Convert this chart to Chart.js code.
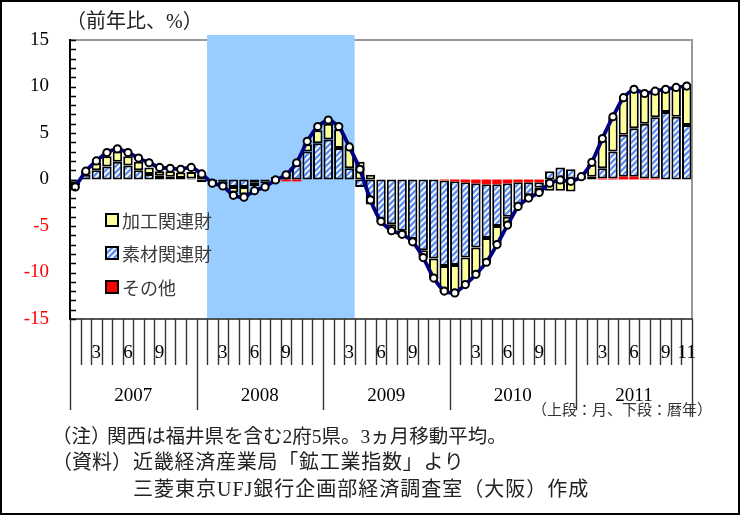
<!DOCTYPE html>
<html><head><meta charset="utf-8">
<script src="https://cdn.jsdelivr.net/npm/chart.js@4/dist/chart.umd.min.js"></script>
<style>
html,body{margin:0;padding:0;background:#fff;}
#wrap{position:relative;width:740px;height:515px;overflow:hidden;background:#fff;}
#c{position:absolute;left:0;top:0;}
#frame{position:absolute;left:0;top:0;width:740px;height:515px;box-sizing:border-box;border:2px solid #000;pointer-events:none;}
.t{position:absolute;white-space:nowrap;font-family:"Liberation Serif","Noto Sans CJK JP",serif;color:#222;line-height:26px;}
</style></head>
<body>
<div id="wrap">
<canvas id="c" width="740" height="515"></canvas>
<div class="t" style="left:66px;top:8px;font-size:20px;">（前年比、%）</div>
<div class="t" style="left:532px;top:398px;font-size:15px;line-height:24px;color:#333;">（上段：月、下段：暦年）</div>
<div class="t" style="left:52px;top:424px;font-size:19.5px;">（注）</div>
<div class="t" style="left:107px;top:424px;font-size:19.5px;">関西は福井県を含む2府5県。3ヵ月移動平均。</div>
<div class="t" style="left:52px;top:449px;font-size:20px;">（資料）</div>
<div class="t" style="left:133px;top:449px;font-size:20px;letter-spacing:0.75px;">近畿経済産業局「鉱工業指数」より</div>
<div class="t" style="left:133px;top:476px;font-size:20px;letter-spacing:1px;">三菱東京UFJ銀行企画部経済調査室（大阪）作成</div>
<div id="frame"></div>
</div>
<script>
// ---- data ----
const years = ['2007','2008','2009','2010','2011'];
const lastMonthOfLastYear = 11;
const labeledMonths = [3, 6, 9];
const recession = ['2008-02', '2009-03'];

const kakou = [ // 加工関連財
  -0.4, 0.4, 0.8, 1.1, 1.1, 1.0, 0.9, 0.7, 0.5, 0.6, 0.6, 0.7,
  0.5, -0.3, -0.3, -0.6, -0.8, -0.4, -0.2, -0.3, 0.0, 0.2, 0.8, 1.4,
  1.7, 2.0, 2.2, 1.9, 0.5, -0.2, -0.6, -0.4, -0.3, -0.8, -2.1, -2.8,
  -3.0, -2.9, -2.9, -2.6, -2.0, -0.9, -0.2, -0.3, -0.5, -1.2, -1.2, -1.3,
  0.1, 1.3, 3.0, 3.7, 4.0, 4.1, 3.2, 2.7, 2.3, 3.0, 4.1
];
const sozai = [ // 素材関連財
  -0.2, 0.5, 1.0, 1.4, 1.9, 1.5, 1.0, 0.6, 0.4, 0.3, 0.15, 0.1,
  -0.3, -0.3, -0.2, -0.8, -0.8, -0.3, -0.2, 0.3, 0.6, 1.6, 3.0, 3.9,
  4.3, 3.4, 1.2, -0.8, -2.7, -4.4, -4.8, -5.5, -6.4, -7.6, -8.5, -9.2,
  -9.0, -8.1, -6.9, -5.8, -4.5, -3.6, -2.4, -1.4, -0.6, 0.9, 1.3, 1.1,
  0.2, 0.3, 1.1, 2.9, 4.5, 5.2, 5.9, 6.6, 7.25, 6.75, 5.85
];
const sonota = [ // その他
  0, 0, 0, 0, 0, 0, 0, 0, 0, 0, 0, 0,
  0, 0, 0, 0, 0, 0, 0, 0, -0.2, -0.2, 0, 0,
  0, 0, 0, 0, 0, 0, 0, 0, 0, 0, 0, -0.1,
  -0.2, -0.3, -0.4, -0.5, -0.5, -0.4, -0.3, -0.3, -0.3, 0, 0, 0,
  0, 0, 0.1, 0.1, 0.3, 0.3, 0.1, 0.1, 0, 0, 0
];
const total = [ // 合計
  -0.8, 0.9, 2.0, 2.9, 3.3, 2.9, 2.3, 1.8, 1.3, 1.2, 1.1, 1.3,
  0.6, -0.4, -0.7, -1.7, -1.9, -1.2, -0.8, -0.05, 0.5, 1.8, 4.1, 5.7,
  6.4, 5.7, 3.5, 1.1, -2.2, -4.5, -5.5, -5.9, -6.7, -8.4, -10.6, -12.0,
  -12.2, -11.3, -10.2, -8.9, -7.0, -4.9, -2.9, -2.0, -1.4, -0.4, -0.05, -0.2,
  0.3, 1.85, 4.4, 6.75, 8.8, 9.7, 9.25, 9.5, 9.7, 9.9, 10.05
];
const yMin = -15, yMax = 15, yStep = 5, yMinorStep = 1;

// ---- categories ----
const labels = [];
years.forEach((y, yi) => {
  const n = yi === years.length - 1 ? lastMonthOfLastYear : 12;
  for (let m = 1; m <= n; m++) labels.push(y + '-' + String(m).padStart(2, '0'));
});

function hatch() {
  const s = 6;
  const c = document.createElement('canvas');
  c.width = c.height = s;
  const g = c.getContext('2d');
  g.fillStyle = '#ffffff'; g.fillRect(0, 0, s, s);
  g.strokeStyle = '#5b8ef5'; g.lineWidth = 2.4;
  g.beginPath();
  g.moveTo(-1, s + 1); g.lineTo(s + 1, -1);
  g.moveTo(-1, 1); g.lineTo(1, -1);
  g.moveTo(s - 1, s + 1); g.lineTo(s + 1, s - 1);
  g.stroke();
  return g.createPattern(c, 'repeat');
}
const hatchPat = hatch();
const yellow = '#ffff99', red = '#ff0000';

const custom = {
  id: 'custom',
  beforeDatasetsDraw(chart) {
    const { ctx, chartArea: a, scales: { x } } = chart;
    ctx.save();
    ctx.strokeStyle = '#999'; ctx.lineWidth = 2;
    ctx.beginPath();
    ctx.moveTo(a.left, a.top); ctx.lineTo(a.right, a.top); ctx.lineTo(a.right, a.bottom);
    ctx.stroke();
    const i0 = labels.indexOf(recession[0]), i1 = labels.indexOf(recession[1]);
    const x0 = x.getPixelForValue(i0 - 0.5), x1 = x.getPixelForValue(i1 + 0.5);
    ctx.fillStyle = '#99ccff';
    ctx.fillRect(x0, a.top - 5, x1 - x0, a.bottom - a.top + 5);
    ctx.restore();
  },
  afterDatasetsDraw(chart) {
    const { ctx, chartArea: a, scales: { x, y } } = chart;
    ctx.save();
    ctx.strokeStyle = '#555'; ctx.lineWidth = 2;
    ctx.beginPath(); ctx.moveTo(a.left, a.bottom); ctx.lineTo(a.right + 1, a.bottom); ctx.stroke();
    ctx.strokeStyle = '#000';
    ctx.beginPath(); ctx.moveTo(a.left, a.top - 1); ctx.lineTo(a.left, a.bottom + 1); ctx.stroke();
    ctx.lineWidth = 1.5;
    ctx.beginPath();
    for (let v = yMin; v <= yMax; v += yMinorStep) {
      const py = Math.round(y.getPixelForValue(v)) + 0.5;
      ctx.moveTo(a.left, py); ctx.lineTo(a.left + 6, py);
    }
    ctx.stroke();
    ctx.strokeStyle = '#333'; ctx.lineWidth = 1.4;
    ctx.beginPath();
    for (let i = 0; i <= labels.length; i++) {
      const px = Math.round(x.getPixelForValue(i - 0.5)) + 0.5;
      let len = 46;
      if (i % 12 === 0) len = 91;
      if (i === labels.length) len = 98;
      ctx.moveTo(px, a.bottom); ctx.lineTo(px, a.bottom + len);
    }
    ctx.stroke();
    ctx.fillStyle = '#000';
    ctx.font = '19px "Liberation Serif"';
    ctx.textAlign = 'center'; ctx.textBaseline = 'middle';
    labels.forEach((l, i) => {
      const m = parseInt(l.slice(5), 10);
      if (labeledMonths.includes(m) || i === labels.length - 1) {
        ctx.fillText(String(m), x.getPixelForValue(i), a.bottom + 34);
      }
    });
    years.forEach((yr) => {
      const first = labels.indexOf(yr + '-01');
      let last = first; while (last + 1 < labels.length && labels[last + 1].startsWith(yr)) last++;
      ctx.fillText(yr, x.getPixelForValue((first + last) / 2), a.bottom + 77);
    });
    const items = [['加工関連財', yellow], ['素材関連財', hatchPat], ['その他', red]];
    const lx = a.left + 36;
    const ly = [220, 253, 287];
    ctx.textAlign = 'left';
    ctx.font = '18px "Noto Sans CJK JP"';
    items.forEach((it, k) => {
      ctx.fillStyle = it[1];
      ctx.fillRect(lx, ly[k] - 6, 12, 12);
      ctx.strokeStyle = '#000'; ctx.lineWidth = 2;
      ctx.strokeRect(lx, ly[k] - 6, 12, 12);
      ctx.fillStyle = '#3a3a3a';
      ctx.fillText(it[0], lx + 16, ly[k] + 1);
    });
    ctx.restore();
  }
};

new Chart(document.getElementById('c'), {
  type: 'bar',
  data: {
    labels,
    datasets: [
      { type: 'line', label: '合計', data: total, borderColor: '#000080', borderWidth: 3.8,
        pointRadius: 3.6, pointBackgroundColor: '#fff', pointBorderColor: '#000', pointBorderWidth: 2,
        tension: 0.2, order: 0 },
      { label: 'その他', data: sonota, backgroundColor: red, borderWidth: 0, stack: 's', order: 1,
        barPercentage: 0.9, categoryPercentage: 1 },
      { label: '素材関連財', data: sozai, backgroundColor: hatchPat, borderColor: '#000', borderWidth: 2,
        borderSkipped: false, stack: 's', order: 1, barPercentage: 0.9, categoryPercentage: 1 },
      { label: '加工関連財', data: kakou, backgroundColor: yellow, borderColor: '#000', borderWidth: 2,
        borderSkipped: false, stack: 's', order: 1, barPercentage: 0.9, categoryPercentage: 1 }
    ]
  },
  options: {
    responsive: false, animation: false, devicePixelRatio: 1,
    layout: { padding: { left: 8, right: 48, top: 40, bottom: 196 } },
    plugins: { legend: { display: false }, tooltip: { enabled: false } },
    scales: {
      x: { stacked: true, offset: true, grid: { display: false, drawTicks: false }, border: { display: false },
           ticks: { display: false }, afterFit(s) { s.height = 0; } },
      y: { stacked: true, min: yMin, max: yMax,
           ticks: { stepSize: yStep, padding: 21, font: { family: 'Liberation Serif', size: 19 },
                    callback: v => (v < 0 ? '-' + Math.abs(v) : String(v)),
                    color: c => (c.tick.value < 0 ? '#ff0000' : '#000') },
           grid: { display: false, drawTicks: false, tickLength: 0 }, border: { display: false },
           afterFit(s) { s.width = 62; } }
    }
  },
  plugins: [custom]
});
</script>
</body></html>
